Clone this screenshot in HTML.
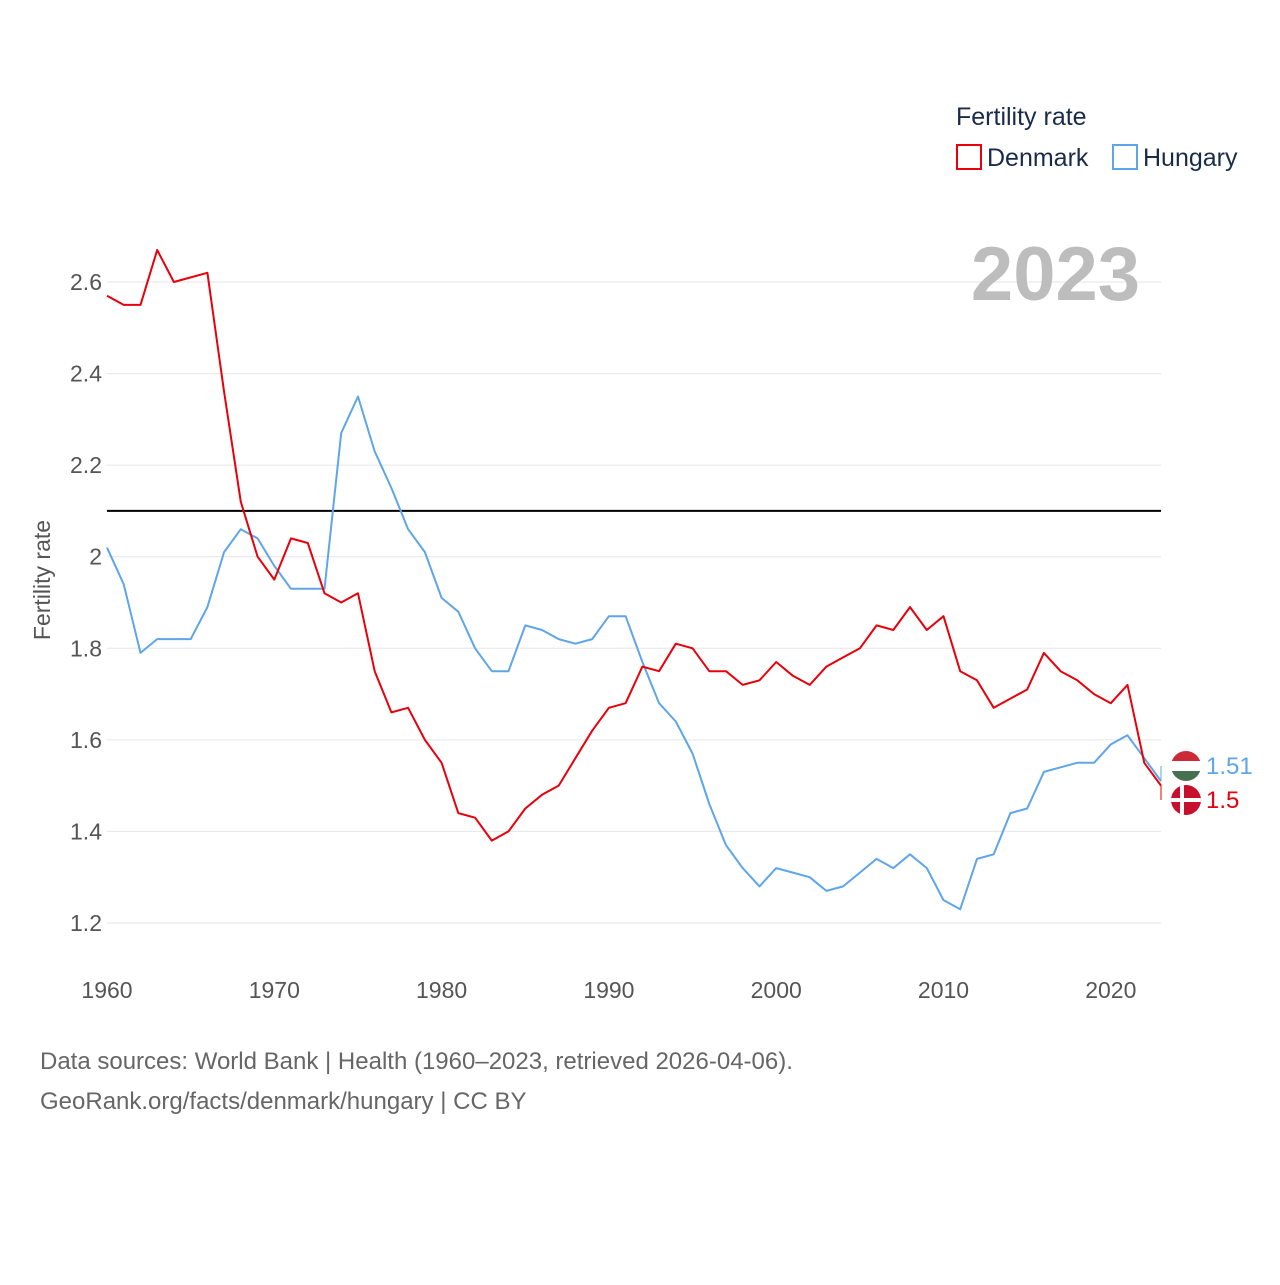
<!DOCTYPE html>
<html>
<head>
<meta charset="utf-8">
<style>
  html,body{margin:0;padding:0;background:#fff;}
  body{width:1280px;height:1280px;overflow:hidden;font-family:"Liberation Sans",sans-serif;}
  svg text{font-family:"Liberation Sans",sans-serif;}
</style>
</head>
<body>
<svg id="chart" width="1280" height="1280" viewBox="0 0 1280 1280" xmlns="http://www.w3.org/2000/svg">
  <g id="grid"></g>
  <g id="yticks"></g>
  <g id="xticks"></g>
  <text x="50" y="580" transform="rotate(-90 50 580)" text-anchor="middle" font-size="23" fill="#555">Fertility rate</text>
  <text x="1140" y="300" text-anchor="end" font-size="76" font-weight="bold" fill="#bdbdbd">2023</text>
  <g>
    <text x="956" y="125" font-size="25" fill="#1a2b4a">Fertility rate</text>
    <rect x="957" y="145" width="24" height="24" fill="none" stroke="#e8000b" stroke-width="2"/>
    <text x="987" y="166" font-size="25" fill="#1a2b4a">Denmark</text>
    <rect x="1113" y="145" width="24" height="24" fill="none" stroke="#5ea5ea" stroke-width="2"/>
    <text x="1143" y="166" font-size="25" fill="#1a2b4a">Hungary</text>
  </g>
  <g id="series"></g>
  <g id="endlabels"></g>
  <text x="40" y="1069" font-size="24" fill="#666">Data sources: World Bank | Health (1960–2023, retrieved 2026-04-06).</text>
  <text x="40" y="1109" font-size="24" fill="#666">GeoRank.org/facts/denmark/hungary | CC BY</text>
</svg>
<script>
const years = [];
for (let y = 1960; y <= 2023; y++) years.push(y);
const denmark = [2.57,2.55,2.55,2.67,2.60,2.61,2.62,2.36,2.12,2.00,1.95,2.04,2.03,1.92,1.90,1.92,1.75,1.66,1.67,1.60,1.55,1.44,1.43,1.38,1.40,1.45,1.48,1.50,1.56,1.62,1.67,1.68,1.76,1.75,1.81,1.80,1.75,1.75,1.72,1.73,1.77,1.74,1.72,1.76,1.78,1.80,1.85,1.84,1.89,1.84,1.87,1.75,1.73,1.67,1.69,1.71,1.79,1.75,1.73,1.70,1.68,1.72,1.55,1.50];
const hungary = [2.02,1.94,1.79,1.82,1.82,1.82,1.89,2.01,2.06,2.04,1.98,1.93,1.93,1.93,2.27,2.35,2.23,2.15,2.06,2.01,1.91,1.88,1.80,1.75,1.75,1.85,1.84,1.82,1.81,1.82,1.87,1.87,1.77,1.68,1.64,1.57,1.46,1.37,1.32,1.28,1.32,1.31,1.30,1.27,1.28,1.31,1.34,1.32,1.35,1.32,1.25,1.23,1.34,1.35,1.44,1.45,1.53,1.54,1.55,1.55,1.59,1.61,1.56,1.51];
const yTicks = [1.2,1.4,1.6,1.8,2.0,2.2,2.4,2.6];
const yTickLabels = ["1.2","1.4","1.6","1.8","2","2.2","2.4","2.6"];
const xTicks = [1960,1970,1980,1990,2000,2010,2020];
const replacement = 2.1;

const NS = "http://www.w3.org/2000/svg";
const X0 = 107, X1 = 1161, Y0 = 1.2, Y1 = 2.6, PY0 = 923, PY1 = 282;
const x = v => X0 + (v - 1960) / (2023 - 1960) * (X1 - X0);
const y = v => PY0 + (v - Y0) / (Y1 - Y0) * (PY1 - PY0);
function mk(tag, attrs, parent){const e=document.createElementNS(NS,tag);for(const k in attrs)e.setAttribute(k,attrs[k]);parent.appendChild(e);return e;}

const grid = document.getElementById('grid');
const yt = document.getElementById('yticks');
yTicks.forEach((t,i)=>{
  const l = mk('line',{x1:X0,x2:X1,y1:y(t),y2:y(t),stroke:'#e6e6e6','stroke-width':1},grid);
  
  
  const tx = mk('text',{x:102,y:y(t)+8,'text-anchor':'end','font-size':23,fill:'#555'},yt);
  tx.textContent = yTickLabels[i];
  
  
});
const xt = document.getElementById('xticks');
xTicks.forEach(t=>{
  const tx = mk('text',{x:x(t),y:998,'text-anchor':'middle','font-size':23,fill:'#555'},xt);
  tx.textContent = t;
  
  
});
const ser = document.getElementById('series');
const ref = mk('line',{x1:X0,x2:X1,y1:y(replacement),y2:y(replacement),stroke:'#000','stroke-width':2},ser);


function path(vals,color,name){
  const d = vals.map((v,i)=>(i?'L':'M')+x(years[i]).toFixed(1)+','+y(v).toFixed(1)).join(' ');
  const p = mk('path',{d:d,fill:'none',stroke:color,'stroke-width':2,'stroke-linejoin':'round'},ser);
  
  
}
path(hungary,'#5ea5ea','hungary-line');
path(denmark,'#e8000b','denmark-line');

const el = document.getElementById('endlabels');
const hv = hungary[hungary.length-1], dv = denmark[denmark.length-1];
const hy = 766, dy = 800;
const hc = mk('path',{d:`M${X1},${y(hv)} L${X1},${hy}`,stroke:'#5ea5ea',fill:'none'},el);


const dc = mk('path',{d:`M${X1},${y(dv)} L${X1},${dy}`,stroke:'#e8000b',fill:'none'},el);


// Hungary flag
const hg = mk('g',{},el);


mk('clipPath',{id:'hc'},hg).appendChild(document.createElementNS(NS,'circle'));
const hcc = hg.querySelector('circle'); hcc.setAttribute('cx',1186);hcc.setAttribute('cy',hy);hcc.setAttribute('r',15);
mk('rect',{x:1171,y:hy-15,width:30,height:10,fill:'#ce2939','clip-path':'url(#hc)'},hg);
mk('rect',{x:1171,y:hy-5,width:30,height:10,fill:'#fff','clip-path':'url(#hc)'},hg);
mk('rect',{x:1171,y:hy+5,width:30,height:10,fill:'#477050','clip-path':'url(#hc)'},hg);
// Denmark flag
const dg = mk('g',{},el);


mk('circle',{cx:1186,cy:dy,r:15,fill:'#c8102e'},dg);
mk('clipPath',{id:'dcl'},dg).appendChild(document.createElementNS(NS,'circle'));
const dcc = dg.querySelectorAll('circle')[1]; dcc.setAttribute('cx',1186);dcc.setAttribute('cy',dy);dcc.setAttribute('r',15);
mk('rect',{x:1171,y:dy-2,width:30,height:4,fill:'#fff','clip-path':'url(#dcl)'},dg);
mk('rect',{x:1180,y:dy-15,width:4,height:30,fill:'#fff','clip-path':'url(#dcl)'},dg);
const ht = mk('text',{x:1206,y:hy+8,'font-size':24,fill:'#5ea5ea'},el);
ht.textContent = hv.toFixed(2);


const dt = mk('text',{x:1206,y:dy+8,'font-size':24,fill:'#e8000b'},el);
dt.textContent = String(dv);


</script>
</body>
</html>
